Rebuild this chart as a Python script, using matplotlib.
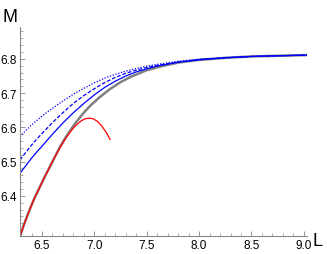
import matplotlib.pyplot as plt
from matplotlib.ticker import MultipleLocator

# gray curve
L_gray = [6.29, 6.33, 6.37, 6.42, 6.47, 6.52, 6.57, 6.62, 6.67, 6.72, 6.77, 6.82, 6.87,
          6.92, 6.97, 7.05, 7.15, 7.25, 7.35, 7.5, 7.65, 7.8, 8.0, 8.25, 8.5, 8.75, 9.04]
M_gray = [6.282, 6.318, 6.35, 6.388, 6.42, 6.452, 6.482, 6.512, 6.542, 6.568, 6.591, 6.613, 6.632,
          6.65, 6.666, 6.688, 6.712, 6.732, 6.748, 6.767, 6.779, 6.789, 6.797, 6.803, 6.807, 6.809, 6.811]

# red curve
L_red = [6.29, 6.33, 6.37, 6.42, 6.47, 6.52, 6.57, 6.62, 6.67, 6.72, 6.77, 6.82, 6.87,
         6.91, 6.95, 6.99, 7.03, 7.07, 7.11, 7.15]
M_red = [6.282, 6.318, 6.35, 6.388, 6.42, 6.452, 6.482, 6.512, 6.54, 6.565, 6.587, 6.605, 6.618,
         6.625, 6.627, 6.625, 6.617, 6.604, 6.587, 6.565]

# blue curves
L_blue = [6.29, 6.35, 6.4, 6.45, 6.5, 6.6, 6.7, 6.8, 6.9, 7.0, 7.1, 7.2, 7.3, 7.4, 7.5,
          7.6, 7.8, 8.0, 8.25, 8.5, 8.75, 9.04]
M_solid = [6.466, 6.49, 6.51, 6.528, 6.545, 6.58, 6.613, 6.643, 6.67, 6.695, 6.717, 6.735, 6.75,
           6.762, 6.771, 6.779, 6.79, 6.797, 6.803, 6.807, 6.809, 6.811]
M_dashed = [6.505, 6.529, 6.548, 6.566, 6.582, 6.614, 6.643, 6.67, 6.693, 6.713, 6.731, 6.746, 6.758,
            6.767, 6.775, 6.781, 6.791, 6.798, 6.803, 6.807, 6.809, 6.811]
M_dotted = [6.573, 6.592, 6.607, 6.62, 6.633, 6.656, 6.677, 6.697, 6.714, 6.73, 6.744, 6.755, 6.764,
            6.772, 6.779, 6.784, 6.793, 6.799, 6.804, 6.807, 6.809, 6.811]

x_ticks = [6.5, 7.0, 7.5, 8.0, 8.5, 9.0]
y_ticks = [6.4, 6.5, 6.6, 6.7, 6.8]

plt.rcParams['font.family'] = ['Liberation Sans', 'DejaVu Sans']

fig = plt.figure(figsize=(3.27, 2.55), dpi=100)
ax = fig.add_axes([20 / 327, (255 - 237.3) / 255, 287 / 327, (237.3 - 28) / 255])

ax.plot(L_gray, M_gray, color='#808080', lw=1.8, solid_capstyle='butt')
ax.plot(L_red, M_red, color='#ff0000', lw=0.9)
ax.plot(L_blue, M_solid, color='#0000ff', lw=0.9)
ax.plot(L_blue, M_dashed, color='#0000ff', lw=0.9, dashes=(3, 1.5))
ax.plot(L_blue, M_dotted, color='#0000ff', lw=0.9, dashes=(1, 1.3))

ax.set_xlim(6.29, 9.03)
ax.set_ylim(6.282, 6.893)
ax.set_xticks(x_ticks)
ax.set_yticks(y_ticks)
ax.set_xticklabels([f'{v:.1f}' for v in x_ticks])
ax.set_yticklabels([f'{v:.1f}' for v in y_ticks])
ax.xaxis.set_minor_locator(MultipleLocator(0.1))
ax.yaxis.set_minor_locator(MultipleLocator(0.02))

for s in ['top', 'right']:
    ax.spines[s].set_visible(False)
for s in ['left', 'bottom']:
    ax.spines[s].set_color('#888888')
    ax.spines[s].set_linewidth(0.8)
ax.tick_params(which='major', direction='in', length=3.5, width=0.6, color='#888888',
               labelsize=8.5, pad=2)
ax.tick_params(which='minor', direction='in', length=2, width=0.5, color='#888888')

fig.text(3 / 327, 1 - 22 / 255, 'M', fontsize=13)
fig.text(312 / 327, 1 - 246 / 255, 'L', fontsize=13)

fig.savefig('out.png', dpi=100)
